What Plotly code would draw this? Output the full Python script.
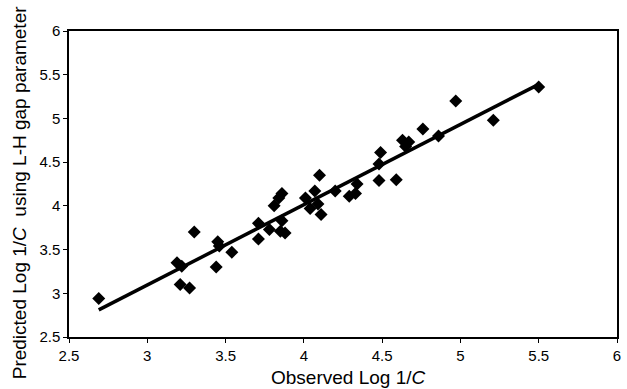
import plotly.graph_objects as go

observed = [2.69, 3.19, 3.22, 3.30, 3.21, 3.27, 3.45, 3.46, 3.44, 3.54, 3.71, 3.71,
            3.78, 3.81, 3.84, 3.86, 3.86, 3.85, 3.88, 4.01, 4.04, 4.07, 4.09, 4.11,
            4.10, 4.20, 4.29, 4.33, 4.34, 4.48, 4.49, 4.48, 4.59, 4.63, 4.67, 4.65,
            4.76, 4.86, 4.97, 5.21, 5.50]
predicted = [2.94, 3.35, 3.31, 3.70, 3.10, 3.06, 3.59, 3.54, 3.30, 3.47, 3.80, 3.62,
             3.73, 4.00, 4.09, 4.14, 3.83, 3.71, 3.69, 4.09, 3.97, 4.17, 4.02, 3.90,
             4.35, 4.17, 4.11, 4.14, 4.25, 4.29, 4.61, 4.48, 4.30, 4.75, 4.73, 4.68,
             4.88, 4.80, 5.20, 4.98, 5.36]
fit_x = [2.69, 5.50]
fit_y = [2.81, 5.39]
tick_vals = [2.5, 3, 3.5, 4, 4.5, 5, 5.5, 6]
tick_text = ["2.5", "3", "3.5", "4", "4.5", "5", "5.5", "6"]

fig = go.Figure()
fig.add_trace(go.Scatter(x=observed, y=predicted, mode="markers",
                         marker=dict(symbol="diamond", size=10, color="black"),
                         showlegend=False))
fig.add_trace(go.Scatter(x=fit_x, y=fit_y, mode="lines",
                         line=dict(color="black", width=3.5), showlegend=False))

font = "Liberation Sans, Arial, sans-serif"
fig.update_layout(
    width=627, height=389,
    margin=dict(l=69, r=6, t=31, b=52),
    plot_bgcolor="white", paper_bgcolor="white",
    font=dict(family=font, size=14, color="black"),
)
fig.update_xaxes(range=[2.5, 6], tickvals=tick_vals, ticktext=tick_text,
                 showgrid=False, zeroline=False, showline=True, linecolor="black",
                 linewidth=1.5, mirror=True, ticks="outside", ticklen=4,
                 tickcolor="black", tickfont=dict(size=15), ticklabeloverflow="allow")
fig.update_yaxes(range=[2.5, 6], tickvals=tick_vals, ticktext=tick_text,
                 showgrid=False, zeroline=False, showline=True, linecolor="black",
                 linewidth=1.5, mirror=True, ticks="outside", ticklen=4,
                 tickcolor="black", tickfont=dict(size=15))
fig.add_annotation(text="Observed Log 1/<i>C</i>",
                   xref="paper", yref="paper", x=0.509, y=-0.131,
                   xanchor="center", yanchor="middle",
                   showarrow=False, font=dict(size=19))
fig.add_annotation(text="Predicted Log 1/<i>C</i>  using L-H gap parameter",
                   xref="paper", yref="paper", x=-0.0888, y=0.474,
                   xanchor="center", yanchor="middle", textangle=-90,
                   showarrow=False, font=dict(size=19))
fig.write_html("out.html", config={"displayModeBar": False},
               post_script="document.body.style.margin='0';document.body.style.overflow='hidden';")
